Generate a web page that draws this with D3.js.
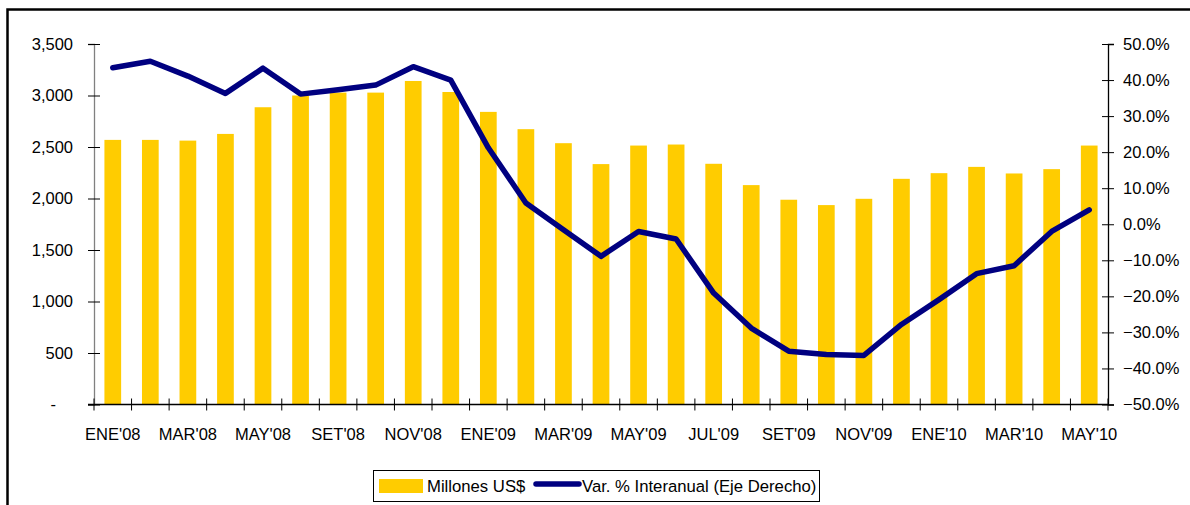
<!DOCTYPE html>
<html lang="es">
<head>
  <meta charset="UTF-8">
  <title>importaciones</title>
  <script src="https://cdn.jsdelivr.net/npm/d3@7"></script>
</head>
<body>
<style>
  * { padding: 0; margin: 0; }
  body { background: #fff; }
  #app text { font-family: Arial, "Liberation Sans", sans-serif; font-size: 16.5px; fill: #000; }
  #app .legend text { font-size: 16.7px; }
</style>

<div id="app"></div>

<script>
  // meses (el reporte original salta dos meses a mediados de 2008)
  const months = ["ENE'08", "FEB'08", "MAR'08", "ABR'08", "MAY'08", "JUL'08", "SET'08", "OCT'08", "NOV'08", "DIC'08",
    "ENE'09", "FEB'09", "MAR'09", "ABR'09", "MAY'09", "JUN'09", "JUL'09", "AGO'09", "SET'09", "OCT'09", "NOV'09", "DIC'09",
    "ENE'10", "FEB'10", "MAR'10", "ABR'10", "MAY'10"];

  const millones = [2569, 2569, 2562, 2627, 2886, 3000, 3028, 3028, 3141, 3034,
    2841, 2673, 2537, 2334, 2514, 2524, 2337, 2130, 1988, 1936, 1997, 2191,
    2246, 2307, 2243, 2285, 2514];

  const varInteranual = [43.4, 45.2, 41.1, 36.3, 43.3, 36.1, 37.3, 38.6, 43.7, 40.0,
    21.2, 5.9, -1.5, -8.9, -2.0, -4.1, -19.1, -28.8, -35.2, -36.1, -36.4, -27.8,
    -20.9, -13.7, -11.5, -2.0, 4.0];

  const leftTicks = [0, 500, 1000, 1500, 2000, 2500, 3000, 3500];
  const rightTicks = [-50, -40, -30, -20, -10, 0, 10, 20, 30, 40, 50];

  const $width = 1190, $height = 505;
  const plot = {left: 94, right: 1108, top: 44, bottom: 404.5};

  const svg = d3.select("#app").append("svg").attr("width", $width).attr("height", $height);

  // marco exterior
  svg.append("rect").attr("x", 7.5).attr("y", 9.5).attr("width", 1200).attr("height", 520)
    .attr("fill", "none").attr("stroke", "#000").attr("stroke-width", 2.5);

  const x = d3.scaleBand().domain(months).range([plot.left, plot.right]).paddingInner(0.555).paddingOuter(0.2775);
  const yL = d3.scaleLinear().domain([0, 3500]).range([plot.bottom, plot.top]);
  const yR = d3.scaleLinear().domain([-50, 50]).range([plot.bottom, plot.top]);

  // barras
  svg.append("g").selectAll("rect").data(millones).enter().append("rect")
    .attr("x", (d, i) => x(months[i]))
    .attr("y", d => yL(d))
    .attr("width", x.bandwidth())
    .attr("height", d => yL(0) - yL(d))
    .attr("fill", "#FFCC00");

  // eje izquierdo
  const axisL = d3.axisLeft(yL).tickValues(leftTicks).tickSize(6).tickPadding(15)
    .tickFormat(d => d === 0 ? "-" : d3.format(",")(d));
  const gL = svg.append("g").attr("transform", "translate(" + plot.left + ",0)").call(axisL);
  gL.select(".domain").attr("stroke", "#808080").attr("stroke-width", 1.3);
  gL.selectAll(".tick line").attr("x1", 6).attr("stroke", "#000");
  gL.selectAll(".tick text").attr("x", d => d === 0 ? -38 : -21);

  // eje derecho
  const axisR = d3.axisRight(yR).tickValues(rightTicks).tickSize(6).tickPadding(9)
    .tickFormat(d => d3.format(".1f")(d) + "%");
  const gR = svg.append("g").attr("transform", "translate(" + plot.right + ",0)").call(axisR);
  gR.select(".domain").attr("stroke", "#000").attr("stroke-width", 1.3);
  gR.selectAll(".tick line").attr("x1", -6).attr("stroke", "#000");

  // eje x: marcas en los límites de cada categoría, etiquetas cada dos meses
  const gX = svg.append("g").attr("transform", "translate(0," + plot.bottom + ")");
  gX.append("line").attr("x1", plot.left - 6).attr("x2", plot.right).attr("stroke", "#000").attr("stroke-width", 1.3);
  const bounds = months.map(m => x(m) - x.step() * x.paddingInner() / 2).concat([plot.right]);
  gX.selectAll("line.tk").data(bounds).enter().append("line").attr("class", "tk")
    .attr("x1", d => d).attr("x2", d => d).attr("y1", -6).attr("y2", 6).attr("stroke", "#000");
  const axisX = d3.axisBottom(x).tickSize(0).tickFormat((d, i) => i % 2 === 0 ? d : "");
  const gXl = svg.append("g").attr("transform", "translate(0," + plot.bottom + ")").call(axisX);
  gXl.select(".domain").remove();
  gXl.selectAll(".tick text").attr("y", 35).attr("dy", 0);

  // línea variación %
  const line = d3.line()
    .x((d, i) => x(months[i]) + x.bandwidth() / 2)
    .y(d => yR(d));
  svg.append("path").datum(varInteranual).attr("d", line)
    .attr("fill", "none").attr("stroke", "#000080").attr("stroke-width", 5.5)
    .attr("stroke-linejoin", "round").attr("stroke-linecap", "round");

  // leyenda
  const lg = svg.append("g").attr("class", "legend");
  lg.append("rect").attr("x", 373.5).attr("y", 470.5).attr("width", 446).attr("height", 31)
    .attr("fill", "#fff").attr("stroke", "#000").attr("stroke-width", 1);
  lg.append("rect").attr("x", 379).attr("y", 479).attr("width", 44).attr("height", 14).attr("fill", "#FFCC00");
  lg.append("text").attr("x", 427).attr("y", 492).text("Millones US$");
  lg.append("line").attr("x1", 536).attr("x2", 579).attr("y1", 484).attr("y2", 484)
    .attr("stroke", "#000080").attr("stroke-width", 5.5).attr("stroke-linecap", "round");
  lg.append("text").attr("x", 582).attr("y", 492).text("Var. % Interanual (Eje Derecho)");
</script>
</body>
</html>
